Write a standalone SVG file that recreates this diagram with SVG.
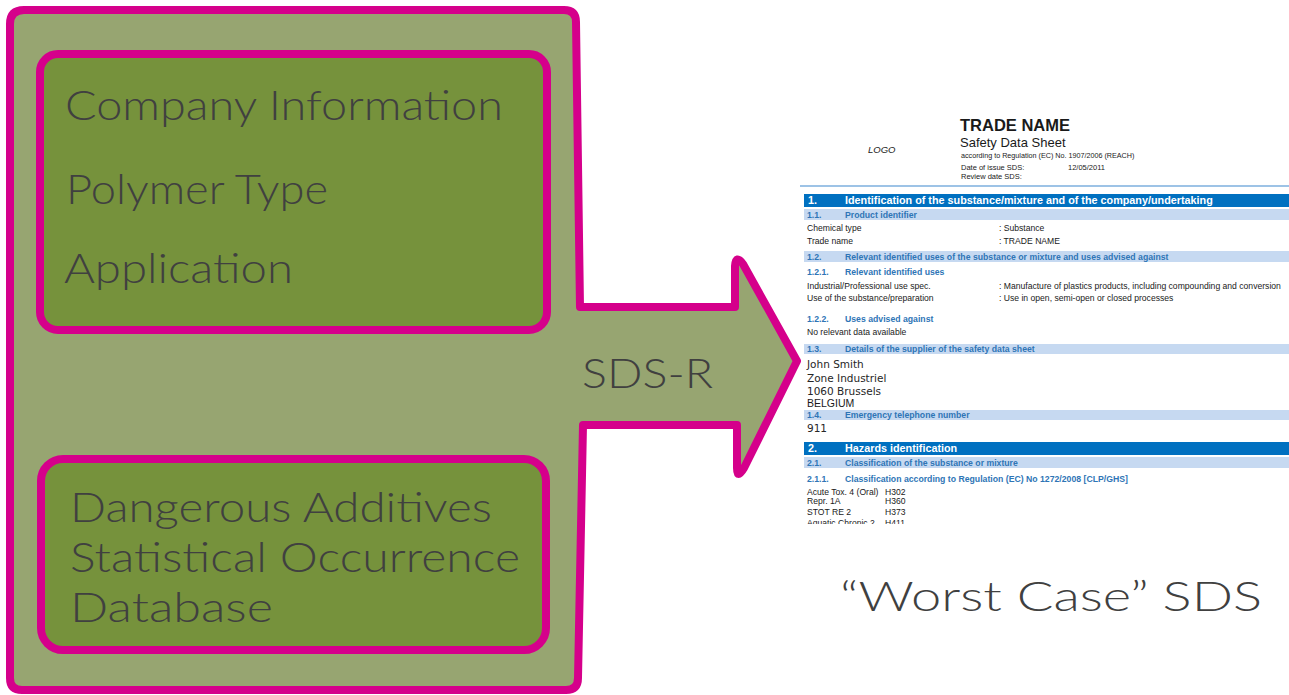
<svg xmlns="http://www.w3.org/2000/svg" width="1289" height="695" viewBox="0 0 1289 695">
  <style>
    .frame { stroke: #D5008B; stroke-width: 8; stroke-linejoin: round; }
    .outer { fill: #97A571; }
    .inner { fill: #76923C; }
    .label { font-family: "Lato", "Liberation Sans", sans-serif; font-weight: 300; font-size: 42px; fill: #404040; }
    .doc { font-family: "Liberation Sans", Arial, sans-serif; fill: #1a1a1a; }
    .small { font-size: 8.6px; }
    .bar1 { fill: #0070C0; }
    .bar2 { fill: #C6D9F1; }
    .h1 { font-size: 10.8px; font-weight: bold; fill: #ffffff; }
    .h2 { font-size: 8.7px; font-weight: bold; fill: #2E75B6; }
    .addr { font-family: "DejaVu Sans", Verdana, sans-serif; font-size: 10.5px; fill: #262626; }
  </style>
  <defs>
    <clipPath id="page">
      <rect x="800" y="105" width="489" height="419"/>
    </clipPath>
  </defs>

  <rect x="0" y="0" width="1289" height="695" fill="#ffffff"/>

  <!-- outer container with the SDS-R arrow -->
  <g id="source">
    <path class="frame outer" d="M10,24 Q10,10 24,10 L564,10 Q576,10 576,22 L580,307 L735,307 L735,266 Q736,254 743,264 L797,361 L744,468 Q737,480 737,468 L737,425 L583,425 L578,678 Q578,690 566,690 L22,690 Q10,690 10,678 Z"/>
    <text class="label" x="582" y="388" font-size="49" textLength="131" lengthAdjust="spacingAndGlyphs">SDS-R</text>
  </g>

  <g id="inputs">
    <rect class="frame inner" x="40" y="54" width="507" height="276" rx="18"/>
    <text class="label" x="65" y="120" textLength="438" lengthAdjust="spacingAndGlyphs">Company Information</text>
    <text class="label" x="66" y="204" textLength="262" lengthAdjust="spacingAndGlyphs">Polymer Type</text>
    <text class="label" x="64" y="283" textLength="229" lengthAdjust="spacingAndGlyphs">Application</text>
  </g>

  <g id="database">
    <rect class="frame inner" x="41" y="459" width="505" height="191" rx="22"/>
    <text class="label" x="70" y="522" textLength="422" lengthAdjust="spacingAndGlyphs">Dangerous Additives</text>
    <text class="label" x="70" y="572" textLength="450" lengthAdjust="spacingAndGlyphs">Statistical Occurrence</text>
    <text class="label" x="70" y="622" textLength="203" lengthAdjust="spacingAndGlyphs">Database</text>
  </g>

  <!-- resulting safety data sheet -->
  <g id="sds" clip-path="url(#page)">
    <text class="doc" x="868" y="153" font-size="9.5" font-style="italic">LOGO</text>
    <text class="doc" x="960" y="131" font-size="16.5" font-weight="bold" fill="#000">TRADE NAME</text>
    <text class="doc" x="960" y="147" font-size="13">Safety Data Sheet</text>
    <text class="doc" x="961" y="158" font-size="7.2">according to Regulation (EC) No. 1907/2006 (REACH)</text>
    <text class="doc" x="961" y="170" font-size="7.5">Date of issue SDS:</text>
    <text class="doc" x="1068" y="170" font-size="7.5">12/05/2011</text>
    <text class="doc" x="961" y="179" font-size="7.5">Review date SDS:</text>
    <rect x="800" y="185" width="489" height="2" fill="#9DC3E6"/>

    <rect class="bar1" x="804" y="194" width="485" height="13"/>
    <text class="doc h1" x="808" y="204">1.</text>
    <text class="doc h1" x="845" y="204">Identification of the substance/mixture and of the company/undertaking</text>

    <rect class="bar2" x="804" y="209" width="485" height="11"/>
    <text class="doc h2" x="807" y="218">1.1.</text>
    <text class="doc h2" x="845" y="218">Product identifier</text>
    <text class="doc small" x="807" y="231">Chemical type</text>
    <text class="doc small" x="999" y="231">:  Substance</text>
    <text class="doc small" x="807" y="244">Trade name</text>
    <text class="doc small" x="999" y="244">:  TRADE NAME</text>

    <rect class="bar2" x="804" y="251" width="485" height="11"/>
    <text class="doc h2" x="807" y="260">1.2.</text>
    <text class="doc h2" x="845" y="260">Relevant identified uses of the substance or mixture and uses advised against</text>

    <text class="doc h2" x="807" y="275">1.2.1.</text>
    <text class="doc h2" x="845" y="275">Relevant identified uses</text>
    <text class="doc small" x="807" y="289">Industrial/Professional use spec.</text>
    <text class="doc small" x="999" y="289">:  Manufacture of plastics products, including compounding and conversion</text>
    <text class="doc small" x="807" y="301">Use of the substance/preparation</text>
    <text class="doc small" x="999" y="301">:  Use in open, semi-open or closed processes</text>

    <text class="doc h2" x="807" y="322">1.2.2.</text>
    <text class="doc h2" x="845" y="322">Uses advised against</text>
    <text class="doc small" x="807" y="335">No relevant data available</text>

    <rect class="bar2" x="804" y="344" width="485" height="10"/>
    <text class="doc h2" x="807" y="352">1.3.</text>
    <text class="doc h2" x="845" y="352">Details of the supplier of the safety data sheet</text>
    <text class="addr" x="807" y="368">John Smith</text>
    <text class="addr" x="807" y="382">Zone Industriel</text>
    <text class="addr" x="807" y="395">1060 Brussels</text>
    <text class="doc" x="807" y="407" font-size="10.5">BELGIUM</text>

    <rect class="bar2" x="804" y="410" width="485" height="10"/>
    <text class="doc h2" x="807" y="418">1.4.</text>
    <text class="doc h2" x="845" y="418">Emergency telephone number</text>
    <text class="addr" x="807" y="432">911</text>

    <rect class="bar1" x="804" y="442" width="485" height="13"/>
    <text class="doc h1" x="808" y="452">2.</text>
    <text class="doc h1" x="845" y="452">Hazards identification</text>

    <rect class="bar2" x="804" y="457" width="485" height="11"/>
    <text class="doc h2" x="807" y="466">2.1.</text>
    <text class="doc h2" x="845" y="466">Classification of the substance or mixture</text>

    <text class="doc h2" x="807" y="482">2.1.1.</text>
    <text class="doc h2" x="845" y="482">Classification according to Regulation (EC) No 1272/2008 [CLP/GHS]</text>
    <text class="doc small" x="807" y="495">Acute Tox. 4 (Oral)</text>
    <text class="doc small" x="885" y="495">H302</text>
    <text class="doc small" x="807" y="504">Repr. 1A</text>
    <text class="doc small" x="885" y="504">H360</text>
    <text class="doc small" x="807" y="515">STOT RE 2</text>
    <text class="doc small" x="885" y="515">H373</text>
    <text class="doc small" x="807" y="526">Aquatic Chronic 2</text>
    <text class="doc small" x="885" y="526">H411</text>
  </g>

  <g id="result-caption">
    <text class="label" x="840" y="611" font-size="52" textLength="422" lengthAdjust="spacingAndGlyphs">“Worst Case” SDS</text>
  </g>
</svg>
